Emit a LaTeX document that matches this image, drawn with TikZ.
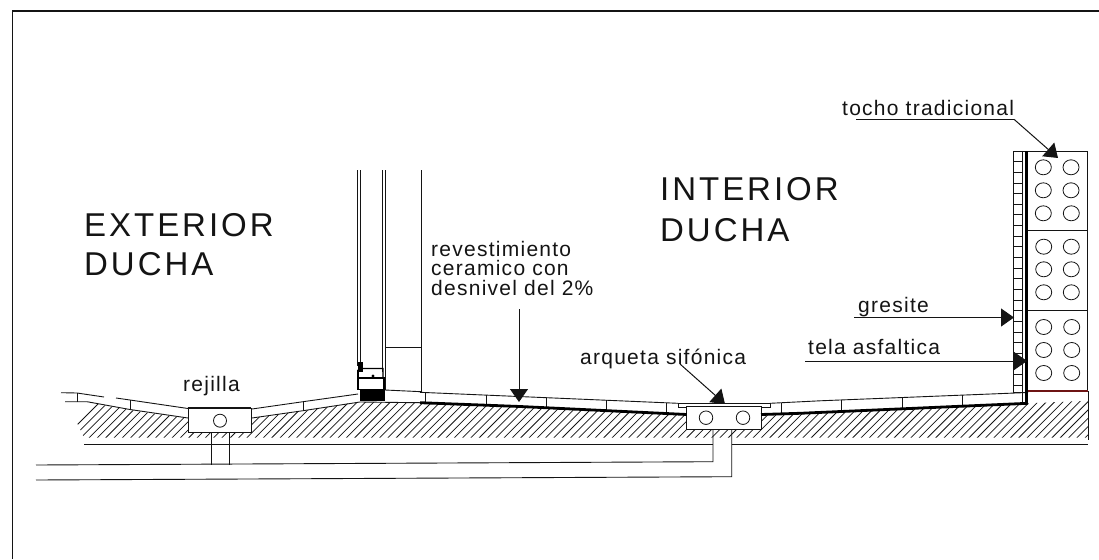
\documentclass[tikz,border=0pt]{standalone}
\usepackage{fontspec}
\setmainfont{Liberation Sans}
\newfontfamily\biglabel[LetterSpace=9]{Liberation Sans}
\newfontfamily\smalllabel[LetterSpace=6]{Liberation Sans}
\usetikzlibrary{arrows.meta,shapes.geometric}
\definecolor{ink}{gray}{0.08}
\definecolor{brickred}{RGB}{110,20,20}
\tikzset{
  thin line/.style={draw=ink,line width=0.9pt},
  hatch line/.style={draw=ink,line width=0.75pt},
  frame line/.style={draw=ink,line width=1.8pt},
  membrane/.style={draw=black,line width=2.8pt},
  pointer/.style={draw=ink,line width=1pt,-{Triangle[length=13pt,width=18pt]}},
  big text/.style={anchor=base west,inner sep=0pt,font=\biglabel\fontsize{33}{36}\selectfont,text=ink},
  small text/.style={anchor=base west,inner sep=0pt,font=\smalllabel\fontsize{21}{24}\selectfont,text=ink},
  hole/.style={draw=ink,line width=0.8pt,fill=white,shape=ellipse},
}
\begin{document}
\begin{tikzpicture}[x=1pt,y=-1pt]
\useasboundingbox (0,0) rectangle (1099,559);
\fill[white] (0,0) rectangle (1099,559);
% frame
\draw[frame line] (12.5,559) -- (12.5,11) -- (1099,11);
% hatched ground
\begin{scope}
\clip (67,402) -- (87,402) -- (130,410) -- (188,418.5) -- (188,432) -- (251,432) -- (251,418) -- (303,411) -- (358,402) -- (420,402.7) -- (686.7,415) -- (686.7,429.3) -- (761,429.3) -- (761,415) -- (800,413.5) -- (1028,403.3) -- (1088,400.7) -- (1088,437.5) -- (84,437.5) -- cycle;
\foreach \k in {0,...,130} {
  \draw[hatch line] ({60+\k*8.3},442) -- ({60+\k*8.3+44},398);
}
\end{scope}
% left paving
\draw[thin line] (61,392.7) -- (77,393) -- (104,397);
\draw[thin line] (116,398) -- (130,400) -- (188,408.5);
\draw[thin line] (65,401.7) -- (87,401.7) -- (130,409.5) -- (188,418);
\draw[thin line] (77,393) -- (77,401.7);
\draw[thin line] (130,400) -- (130,409.5);
\draw[thin line] (252,409) -- (303,401.7) -- (358,394);
\draw[thin line] (252,418) -- (303,410.7) -- (360,402) -- (420,402.7);
\draw[thin line] (303,401.7) -- (303,410.7);
% rejilla box
\node[draw=ink,line width=0.9pt,fill=white,minimum width=63pt,minimum height=24pt,inner sep=0pt] (boxA) at (219.5,420) {};
\draw[draw=ink,line width=2pt] (boxA.north west) -- (boxA.north east);
\node[hole,minimum width=13pt,minimum height=13pt,inner sep=0pt] (holeA) at (220,420.7) {};
% arqueta box
\draw[thin line,fill=white] (678,403.3) rectangle (770,407);
\node[draw=ink,line width=0.9pt,fill=white,minimum width=74.3pt,minimum height=22.6pt,inner sep=0pt] (boxB) at (723.9,418) {};
\node[hole,minimum width=13.5pt,minimum height=13.5pt,inner sep=0pt] (holeB) at (706,417.7) {};
\node[hole,minimum width=13.5pt,minimum height=13.5pt,inner sep=0pt] (holeC) at (743,417.7) {};
% pipes
\draw[thin line] (84,444.3) -- (713,444.3);
\draw[thin line] (731.7,444.3) -- (1088,444.3);
\draw[thin line] (211,432) -- (211,464.7);
\draw[thin line] (229,432) -- (229,464.5);
\draw[thin line] (36,465) -- (713,461.7) -- (713,429.3);
\draw[thin line] (36,480) -- (731.7,476.7) -- (731.7,429.3);
% floor tiles
\draw[thin line] (420,392.3) -- (678,403.3);
\draw[thin line] (770,403.3) -- (820,400.8) -- (1023,392.7) -- (1028,392.5);
\foreach \x/\a/\b in {425.7/392.6/402.8,486/395.2/405.8,546/397.7/408.5,606/400.3/411.2,666.7/402.8/413.8,781.7/402.7/412.5,841.7/400/410.8,902.3/397.6/408.1,962.7/395.2/405.5,1022.7/392.8/403} {
  \draw[thin line] (\x,\a) -- (\x,\b);
}
\draw[membrane] (420,402.7) -- (520,406.5) -- (686.7,414.5);
\draw[membrane] (761,414.5) -- (800,413.3) -- (1028,403.3);
% gresite
\draw[thin line] (1013.3,151) rectangle (1022,392.8);
\foreach \k in {0,...,22} {
  \draw[thin line] (1013.3,{151+\k*10.65}) -- (1022,{151+\k*10.65});
}
% brick wall
\draw[thin line] (1022,151) -- (1087,151) -- (1087,391);
\draw[thin line] (1028,230.7) -- (1087,230.7);
\draw[thin line] (1028,310.7) -- (1087,310.7);
\draw[draw=brickred,line width=1.1pt] (1028,391) -- (1088,391);
\draw[thin line] (1088,391) -- (1088,440);
\draw[membrane] (1026.7,151) -- (1026.7,404);
\foreach \x/\y [count=\n] in {1043.3/167.3,1071/167.3,1043.3/190.3,1071/190.3,1043.3/213.3,1071.3/213.3,1043.7/246.7,1071.3/246.7,1043.7/269.3,1071.3/269.3,1043.7/292.3,1071.3/292.3,1043.7/327,1071.7/327,1043.7/350,1071.7/350,1043.7/373,1071.7/373} {
  \node[draw=ink,line width=0.8pt,shape=ellipse,minimum width=16pt,minimum height=15pt,inner sep=0pt] (brickhole\n) at (\x,\y) {};
}
% door
\draw[thin line] (357.5,170) -- (357.5,366);
\draw[thin line] (360.7,170) -- (360.7,366);
\draw[thin line] (382,170) -- (382,372);
\draw[thin line] (385,170) -- (385,390);
\draw[thin line] (421.3,170) -- (421.3,392);
\draw[thin line] (385,347.3) -- (421.3,347.3);
\draw[thin line] (385,390) -- (421.3,391.7);
\fill[black] (357.5,362) rectangle (362.5,372);
\draw[draw=black,line width=1.3pt] (358,370) -- (360,368.5) -- (383,368.5) -- (383,378);
\draw[draw=black,line width=1.3pt] (358,370) -- (358,389.5) -- (384,389.5) -- (384,378) -- (359,378);
\fill[black] (373,376) circle (1.7pt);
\fill[black] (360,390) rectangle (385,400.7);
% leaders
\coordinate (revA) at (519,309);
\coordinate (revB) at (519,402);
\coordinate (arqA) at (680,364);
\coordinate (arqB) at (725,404);
\coordinate (tocA) at (856,119.3);
\coordinate (tocC) at (1014,119.3);
\coordinate (tocB) at (1058,158);
\coordinate (greA) at (854,317.5);
\coordinate (greB) at (1014,317.5);
\coordinate (telA) at (805,361);
\coordinate (telB) at (1027,361);
\draw[pointer] (revA) -- (revB);
\draw[pointer] (arqA) -- (arqB);
\draw[thin line] (tocA) -- (tocC);
\draw[pointer] (tocC) -- (tocB);
\draw[pointer] (greA) -- (greB);
\draw[pointer] (telA) -- (telB);
% labels
\node[big text] (extA) at (84,236) {EXTERIOR};
\node[big text] (extB) at (84,275) {DUCHA};
\node[big text] (intA) at (660,200) {INTERIOR};
\node[big text] (intB) at (660,241) {DUCHA};
\node[small text] (revT1) at (431,256.7) {revestimiento};
\node[small text] (revT2) at (431,275.7) {ceramico con};
\node[small text] (revT3) at (431,295.7) {desnivel del 2\%};
\node[small text] (arqT) at (580,364) {arqueta sifónica};
\node[small text] (rejT) at (183,391) {rejilla};
\node[small text] (tocT) at (842,116) {tocho tradicional};
\node[small text] (greT) at (858,312) {gresite};
\node[small text] (telT) at (808,354) {tela asfaltica};
\end{tikzpicture}
\end{document}
